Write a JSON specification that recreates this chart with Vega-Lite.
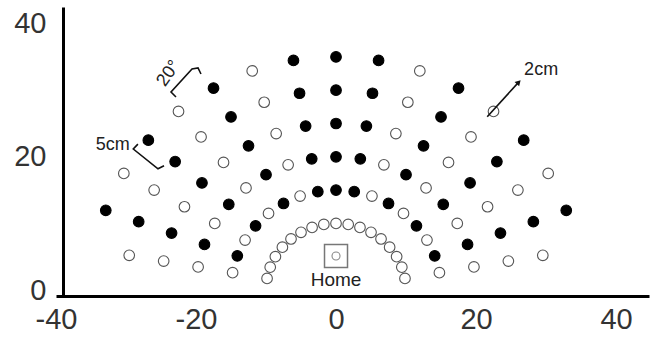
{
  "$schema": "https://vega.github.io/schema/vega-lite/v6.json",
  "width": 593,
  "height": 289,
  "autosize": {"type": "none"},
  "padding": {"left": 56, "top": 7, "right": 4, "bottom": 45},
  "background": "white",
  "config": {"view": {"stroke": null}, "font": "Liberation Sans"},
  "datasets": {
    "pts": [
      {"x": 9.85, "y": 1.74, "t": "open"}, {"x": 9.4, "y": 3.42, "t": "open"}, {"x": 8.66, "y": 5, "t": "open"}, {"x": 7.66, "y": 6.43, "t": "open"}, {"x": 6.43, "y": 7.66, "t": "open"}, {"x": 5, "y": 8.66, "t": "open"}, {"x": 3.42, "y": 9.4, "t": "open"}, {"x": 1.74, "y": 9.85, "t": "open"}, {"x": 0, "y": 10, "t": "open"}, {"x": -1.74, "y": 9.85, "t": "open"}, {"x": -3.42, "y": 9.4, "t": "open"}, {"x": -5, "y": 8.66, "t": "open"}, {"x": -6.43, "y": 7.66, "t": "open"}, {"x": -7.66, "y": 6.43, "t": "open"}, {"x": -8.66, "y": 5, "t": "open"}, {"x": -9.4, "y": 3.42, "t": "open"}, {"x": -9.85, "y": 1.74, "t": "open"},

      {"x": 14.77, "y": 2.6, "t": "open"}, {"x": 14.1, "y": 5.13, "t": "filled"}, {"x": 12.99, "y": 7.5, "t": "open"}, {"x": 11.49, "y": 9.64, "t": "filled"}, {"x": 9.64, "y": 11.49, "t": "open"}, {"x": 7.5, "y": 12.99, "t": "filled"}, {"x": 5.13, "y": 14.1, "t": "open"}, {"x": 2.6, "y": 14.77, "t": "filled"}, {"x": 0, "y": 15, "t": "filled"}, {"x": -2.6, "y": 14.77, "t": "filled"}, {"x": -5.13, "y": 14.1, "t": "open"}, {"x": -7.5, "y": 12.99, "t": "filled"}, {"x": -9.64, "y": 11.49, "t": "open"}, {"x": -11.49, "y": 9.64, "t": "filled"}, {"x": -12.99, "y": 7.5, "t": "open"}, {"x": -14.1, "y": 5.13, "t": "filled"}, {"x": -14.77, "y": 2.6, "t": "open"},

      {"x": 19.7, "y": 3.47, "t": "open"}, {"x": 18.79, "y": 6.84, "t": "filled"}, {"x": 17.32, "y": 10, "t": "open"}, {"x": 15.32, "y": 12.86, "t": "filled"}, {"x": 12.86, "y": 15.32, "t": "open"}, {"x": 10, "y": 17.32, "t": "filled"}, {"x": 6.84, "y": 18.79, "t": "open"}, {"x": 3.47, "y": 19.7, "t": "filled"}, {"x": 0, "y": 20, "t": "filled"}, {"x": -3.47, "y": 19.7, "t": "filled"}, {"x": -6.84, "y": 18.79, "t": "open"}, {"x": -10, "y": 17.32, "t": "filled"}, {"x": -12.86, "y": 15.32, "t": "open"}, {"x": -15.32, "y": 12.86, "t": "filled"}, {"x": -17.32, "y": 10, "t": "open"}, {"x": -18.79, "y": 6.84, "t": "filled"}, {"x": -19.7, "y": 3.47, "t": "open"},

      {"x": 24.62, "y": 4.34, "t": "open"}, {"x": 23.49, "y": 8.55, "t": "filled"}, {"x": 21.65, "y": 12.5, "t": "open"}, {"x": 19.15, "y": 16.07, "t": "filled"}, {"x": 16.07, "y": 19.15, "t": "open"}, {"x": 12.5, "y": 21.65, "t": "filled"}, {"x": 8.55, "y": 23.49, "t": "open"}, {"x": 4.34, "y": 24.62, "t": "filled"}, {"x": 0, "y": 25, "t": "filled"}, {"x": -4.34, "y": 24.62, "t": "filled"}, {"x": -8.55, "y": 23.49, "t": "open"}, {"x": -12.5, "y": 21.65, "t": "filled"}, {"x": -16.07, "y": 19.15, "t": "open"}, {"x": -19.15, "y": 16.07, "t": "filled"}, {"x": -21.65, "y": 12.5, "t": "open"}, {"x": -23.49, "y": 8.55, "t": "filled"}, {"x": -24.62, "y": 4.34, "t": "open"},

      {"x": 29.54, "y": 5.21, "t": "open"}, {"x": 28.19, "y": 10.26, "t": "filled"}, {"x": 25.98, "y": 15, "t": "open"}, {"x": 22.98, "y": 19.28, "t": "filled"}, {"x": 19.28, "y": 22.98, "t": "open"}, {"x": 15, "y": 25.98, "t": "filled"}, {"x": 10.26, "y": 28.19, "t": "open"}, {"x": 5.21, "y": 29.54, "t": "filled"}, {"x": 0, "y": 30, "t": "filled"}, {"x": -5.21, "y": 29.54, "t": "filled"}, {"x": -10.26, "y": 28.19, "t": "open"}, {"x": -15, "y": 25.98, "t": "filled"}, {"x": -19.28, "y": 22.98, "t": "open"}, {"x": -22.98, "y": 19.28, "t": "filled"}, {"x": -25.98, "y": 15, "t": "open"}, {"x": -28.19, "y": 10.26, "t": "filled"}, {"x": -29.54, "y": 5.21, "t": "open"},

      {"x": 32.89, "y": 11.97, "t": "filled"}, {"x": 30.31, "y": 17.5, "t": "open"}, {"x": 26.81, "y": 22.5, "t": "filled"}, {"x": 22.5, "y": 26.81, "t": "open"}, {"x": 17.5, "y": 30.31, "t": "filled"}, {"x": 11.97, "y": 32.89, "t": "open"}, {"x": 6.08, "y": 34.47, "t": "filled"}, {"x": 0, "y": 35, "t": "filled"}, {"x": -6.08, "y": 34.47, "t": "filled"}, {"x": -11.97, "y": 32.89, "t": "open"}, {"x": -17.5, "y": 30.31, "t": "filled"}, {"x": -22.5, "y": 26.81, "t": "open"}, {"x": -26.81, "y": 22.5, "t": "filled"}, {"x": -30.31, "y": 17.5, "t": "open"}, {"x": -32.89, "y": 11.97, "t": "filled"}
    ],
    "home": [{"x": 0, "y": 5.1}],
    "homeLabel": [{"x": 0, "y": 1.5, "label": "Home"}],
    "notes": [
      {"x": -31.9, "y": 21.8, "label": "5cm"},
      {"x": 29.3, "y": 33.0, "label": "2cm"}
    ],
    "angleNote": [{"x": -23.9, "y": 32.5, "label": "20°"}],
    "bracket5": [
      {"x": -28.3, "y": 21.9, "i": 1},
      {"x": -28.96, "y": 21.17, "i": 2},
      {"x": -25.43, "y": 18.2, "i": 3},
      {"x": -24.57, "y": 18.66, "i": 4}
    ],
    "bracket20": [
      {"x": -22.86, "y": 28.98, "i": 1},
      {"x": -23.57, "y": 29.73, "i": 2},
      {"x": -20.57, "y": 33.18, "i": 3},
      {"x": -19.71, "y": 33.33, "i": 4},
      {"x": -19.29, "y": 32.43, "i": 5}
    ],
    "arrow": [
      {"x": 21.6, "y": 26.0, "i": 1},
      {"x": 26.0, "y": 31.1, "i": 2}
    ],
    "arrowHead": [{"x": 26.1, "y": 31.2}]
  },
  "encoding": {
    "x": {
      "field": "x", "type": "quantitative",
      "scale": {"domain": [-40, 44.71], "nice": false, "zero": false},
      "axis": {
        "values": [-40, -20, 0, 20, 40], "title": null, "grid": false,
        "ticks": false, "tickSize": 0, "domainColor": "#000", "domainWidth": 3,
        "labelFont": "Liberation Sans", "labelFontSize": 29, "labelColor": "#333",
        "labelPadding": 9, "labelFlush": false, "labelOverlap": false,
        "labelExpr": "replace(datum.label, '\u2212', '-')",
        "encoding": {"domain": {"update": {"x": {"value": 7}}}}
      }
    },
    "y": {
      "field": "y", "type": "quantitative",
      "scale": {"domain": [-0.9, 42.49], "nice": false, "zero": false},
      "axis": {
        "values": [0, 20, 40], "title": null, "grid": false, "offset": -7,
        "ticks": false, "tickSize": 0, "domainColor": "#000", "domainWidth": 3,
        "labelFont": "Liberation Sans", "labelFontSize": 29, "labelColor": "#333",
        "labelPadding": 17, "labelFlush": false, "labelOverlap": false
      }
    }
  },
  "layer": [
    {
      "data": {"name": "pts"},
      "mark": {"type": "circle", "size": 113, "strokeWidth": 1.1, "opacity": 1},
      "encoding": {
        "fill": {"field": "t", "type": "nominal", "scale": {"domain": ["filled", "open"], "range": ["#000000", "#ffffff"]}, "legend": null},
        "stroke": {"field": "t", "type": "nominal", "scale": {"domain": ["filled", "open"], "range": ["#000000", "#555555"]}, "legend": null}
      }
    },
    {
      "data": {"name": "home"},
      "mark": {"type": "point", "shape": "square", "size": 529, "filled": false, "stroke": "#777", "strokeWidth": 1.5, "opacity": 1}
    },
    {
      "data": {"name": "home"},
      "mark": {"type": "circle", "size": 64, "fill": "#fff", "stroke": "#888", "strokeWidth": 1.1, "opacity": 1}
    },
    {
      "data": {"name": "homeLabel"},
      "mark": {"type": "text", "fontSize": 19, "font": "Liberation Sans", "color": "#222", "align": "center", "baseline": "middle"},
      "encoding": {"text": {"field": "label"}}
    },
    {
      "data": {"name": "notes"},
      "mark": {"type": "text", "fontSize": 18, "font": "Liberation Sans", "color": "#222", "align": "center", "baseline": "middle"},
      "encoding": {"text": {"field": "label"}}
    },
    {
      "data": {"name": "angleNote"},
      "mark": {"type": "text", "fontSize": 18, "font": "Liberation Sans", "color": "#222", "align": "center", "baseline": "middle", "angle": -55},
      "encoding": {"text": {"field": "label"}}
    },
    {
      "data": {"name": "bracket5"},
      "mark": {"type": "line", "color": "#111", "strokeWidth": 1.6},
      "encoding": {"order": {"field": "i", "type": "quantitative"}}
    },
    {
      "data": {"name": "bracket20"},
      "mark": {"type": "line", "color": "#111", "strokeWidth": 1.6},
      "encoding": {"order": {"field": "i", "type": "quantitative"}}
    },
    {
      "data": {"name": "arrow"},
      "mark": {"type": "line", "color": "#111", "strokeWidth": 1.6},
      "encoding": {"order": {"field": "i", "type": "quantitative"}}
    },
    {
      "data": {"name": "arrowHead"},
      "mark": {"type": "point", "shape": "triangle-up", "size": 40, "filled": true, "color": "#111", "opacity": 1, "angle": 43}
    }
  ]
}
